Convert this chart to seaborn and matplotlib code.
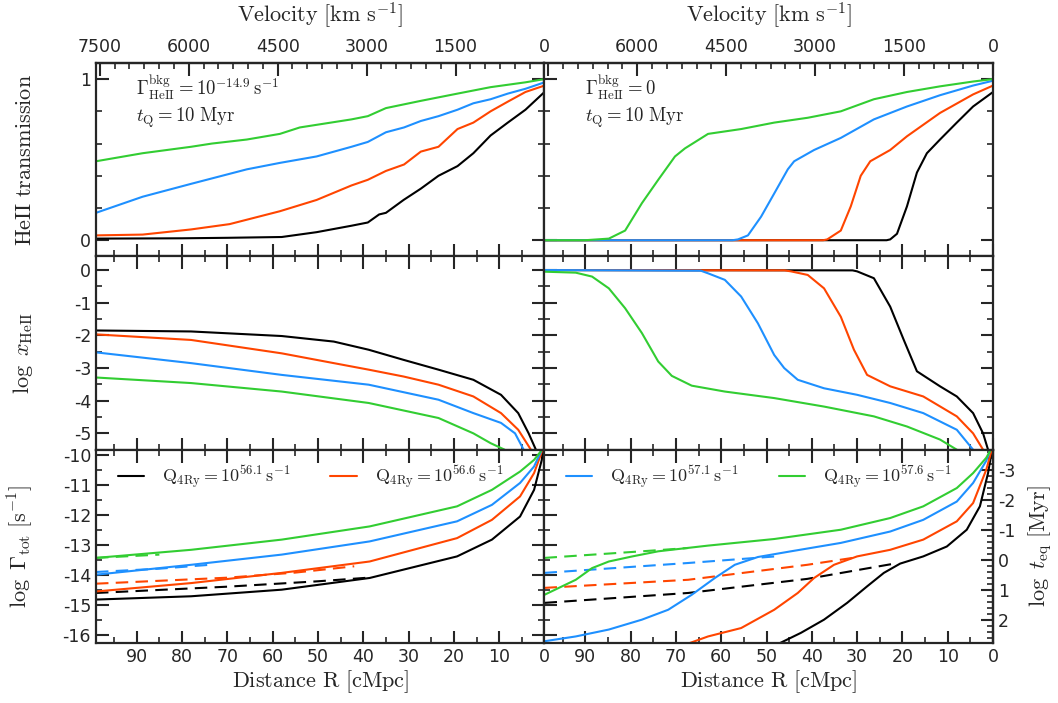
import matplotlib
matplotlib.use("Agg")
import matplotlib.pyplot as plt
import seaborn as sns
from matplotlib.ticker import MultipleLocator, FixedLocator, NullFormatter, FixedFormatter

# ---------------- data ----------------
COLORS = ["black", "#FF4500", "#1E90FF", "#32CD32"]
Q_LABELS = ["56.1", "56.6", "57.1", "57.6"]
VEL_PER_CMPC = 76.4  # km/s per cMpc (top axis conversion)
LOG_MYR_S = 13.5     # log10(1 Myr in s)
VEL_TICKS = [0, 1500, 3000, 4500, 6000, 7500]

# --- top-left: HeII transmission, Gamma_bkg = 10^-14.9
T1_R = [
    [99, 80, 70, 58, 50.3, 42.6, 39, 36.5, 35, 31.1, 27.3, 23.4, 19.2, 15.7, 11.9, 8.1, 4.2, 0],
    [99, 88.7, 78, 69.5, 58.4, 50.3, 42.6, 39, 35, 31, 27.3, 23.4, 19.2, 15.7, 11.9, 8.1, 4.2, 0],
    [99, 88.7, 78, 65.7, 58.4, 50.3, 42.6, 39, 35, 31, 27.3, 23.4, 19.2, 15.7, 11.9, 8.1, 4.2, 0],
    [99, 88.7, 78, 73.4, 65.7, 58.4, 54, 42.6, 39, 35, 27.3, 19.2, 11.9, 4.2, 0],
]
T1_V = [
    [0.01, 0.012, 0.015, 0.02, 0.05, 0.09, 0.11, 0.16, 0.17, 0.25, 0.32, 0.40, 0.46, 0.54, 0.65, 0.73, 0.81, 0.92],
    [0.03, 0.035, 0.067, 0.10, 0.18, 0.25, 0.34, 0.375, 0.43, 0.47, 0.55, 0.58, 0.69, 0.73, 0.80, 0.86, 0.92, 0.96],
    [0.17, 0.27, 0.35, 0.44, 0.48, 0.52, 0.58, 0.61, 0.67, 0.70, 0.74, 0.77, 0.81, 0.85, 0.875, 0.91, 0.94, 0.98],
    [0.49, 0.54, 0.58, 0.60, 0.625, 0.66, 0.70, 0.75, 0.77, 0.82, 0.865, 0.91, 0.95, 0.98, 1.0],
]

# --- top-right: HeII transmission, Gamma_bkg = 0
T2_R = [
    [99, 23.5, 22.7, 21.2, 19, 16.8, 14.6, 11.7, 8, 4.4, 0],
    [99, 37.5, 36.6, 33.6, 31.4, 29.2, 27.1, 22.7, 19, 11.7, 4.4, 0],
    [99, 57.5, 56.3, 54.1, 51.2, 48.3, 45.3, 43.9, 39.5, 33.6, 26.3, 19, 11.7, 4.4, 0],
    [99, 90, 88.5, 84.8, 81.2, 77.5, 73.9, 70.2, 68, 62.9, 55.6, 48.3, 40.9, 33.6, 26.3, 19, 11.7, 4.4, 0],
]
T2_V = [
    [0.0, 0.0, 0.005, 0.04, 0.21, 0.42, 0.54, 0.625, 0.73, 0.83, 0.92],
    [0.0, 0.0, 0.005, 0.06, 0.21, 0.40, 0.49, 0.56, 0.645, 0.79, 0.905, 0.96],
    [0.0, 0.0, 0.005, 0.03, 0.146, 0.29, 0.44, 0.49, 0.56, 0.635, 0.75, 0.83, 0.90, 0.96, 0.99],
    [0.0, 0.0, 0.003, 0.01, 0.06, 0.23, 0.375, 0.52, 0.57, 0.66, 0.69, 0.73, 0.76, 0.80, 0.875, 0.92, 0.955, 0.985, 1.0],
]

# --- middle-left: log x_HeII, Gamma_bkg = 10^-14.9
X1_R = [
    [99, 78, 58, 46.5, 38.8, 31.1, 23.4, 15.7, 9.6, 5.8, 3.5, 1.9, 1.2],
    [99, 78, 58, 46.5, 38.8, 31.1, 23.4, 15.7, 9.6, 5.8, 3.0, 2.0],
    [99, 78, 58, 38.8, 23.4, 15.7, 9.6, 6.5, 4.6, 3.6],
    [99, 78, 58, 38.8, 23.4, 15.7, 11.9, 8.8, 7.5],
]
X1_V = [
    [-1.85, -1.88, -2.02, -2.19, -2.44, -2.75, -3.05, -3.36, -3.82, -4.38, -5.0, -5.5, -6.0],
    [-1.97, -2.14, -2.55, -2.85, -3.05, -3.26, -3.51, -3.87, -4.38, -4.89, -5.5, -6.0],
    [-2.52, -2.85, -3.21, -3.51, -3.97, -4.38, -4.68, -5.0, -5.5, -6.0],
    [-3.29, -3.46, -3.72, -4.07, -4.53, -5.0, -5.3, -5.5, -6.0],
]

# --- middle-right: log x_HeII, Gamma_bkg = 0
X2_R = [
    [99, 31, 30, 26.3, 22.7, 19.7, 16.8, 11.7, 8, 4.4, 2.2, 1.1, 0.6],
    [99, 46, 44.6, 40.9, 37.3, 33.6, 30.7, 27.8, 22.7, 15.4, 8, 4.4, 2.2, 1.5],
    [99, 64.5, 62.9, 59.2, 55.6, 51.9, 48.3, 46.1, 43.1, 37.3, 30, 22.7, 15.4, 8, 4.4, 3.5],
    [99, 92.1, 88.5, 84.8, 81.2, 77.5, 73.9, 70.9, 66.5, 59.2, 48.3, 37.3, 26.3, 19, 11.7, 8, 6.5],
]
X2_V = [
    [0.0, -0.01, -0.04, -0.25, -1.12, -2.14, -3.10, -3.56, -3.87, -4.38, -5.0, -5.5, -6.0],
    [0.0, -0.01, -0.04, -0.15, -0.56, -1.43, -2.44, -3.21, -3.56, -3.87, -4.48, -5.0, -5.5, -6.0],
    [0.0, -0.02, -0.10, -0.30, -0.81, -1.63, -2.60, -3.00, -3.36, -3.62, -3.82, -4.07, -4.38, -4.89, -5.5, -6.0],
    [-0.05, -0.08, -0.20, -0.56, -1.17, -1.93, -2.80, -3.24, -3.54, -3.72, -3.92, -4.18, -4.48, -4.79, -5.19, -5.5, -6.0],
]

# --- bottom-left: log Gamma_tot, Gamma_bkg = 10^-14.9 (solid) and equilibrium (dashed)
G1_R = [
    [99, 78, 58, 38.6, 19.3, 11.6, 5.4, 2.3, 0.6, 0.0],
    [99, 78, 58, 38.6, 19.3, 11.6, 5.4, 2.3, 0.6, 0.0],
    [99, 78, 58, 38.6, 19.3, 11.6, 5.4, 2.3, 0.8, 0.0],
    [99, 78, 58, 38.6, 19.3, 11.6, 5.4, 2.3, 0.9, 0.0],
]
G1_V = [
    [-14.83, -14.72, -14.50, -14.11, -13.39, -12.83, -12.06, -11.17, -10.17, -9.4],
    [-14.56, -14.28, -13.94, -13.56, -12.78, -12.17, -11.39, -10.61, -9.9, -9.4],
    [-14.00, -13.67, -13.33, -12.89, -12.22, -11.67, -10.94, -10.39, -9.9, -9.5],
    [-13.44, -13.17, -12.83, -12.39, -11.72, -11.17, -10.56, -10.17, -9.9, -9.6],
]
G1D_R = [
    [99, 70, 50, 38],
    [99, 70, 55, 42],
    [99, 85, 73],
    [99, 85],
]
G1D_V = [
    [-14.61, -14.40, -14.22, -14.09],
    [-14.30, -14.10, -13.93, -13.72],
    [-13.91, -13.80, -13.66],
    [-13.44, -13.33],
]

# --- bottom-right: log Gamma_tot, Gamma_bkg = 0 (solid) and equilibrium (dashed)
G2_R = [
    [50, 42.4, 37.3, 32.2, 27.8, 24.1, 20.5, 15.4, 10.2, 5.8, 2.9, 1.1, 0.3, 0.0],
    [71, 62.9, 55.6, 48.3, 43.1, 39.5, 35.1, 30, 22.7, 15.4, 8, 4.4, 1.5, 0.4, 0.0],
    [99, 92.1, 84.8, 77.5, 71.7, 66.5, 61.4, 57, 51.9, 44.6, 33.6, 22.7, 15.4, 8, 4.4, 1.5, 0.0],
    [99, 92.1, 88.5, 84.8, 79.6, 73.9, 62.9, 48.3, 33.6, 22.7, 15.4, 8, 4.4, 1.5, 0.0],
]
G2_V = [
    [-16.5, -15.94, -15.50, -14.94, -14.39, -13.94, -13.63, -13.39, -13.06, -12.50, -11.72, -10.61, -9.9, -9.4],
    [-16.5, -16.06, -15.78, -15.17, -14.61, -14.11, -13.67, -13.39, -13.17, -12.83, -12.22, -11.61, -10.50, -9.9, -9.5],
    [-16.22, -16.06, -15.83, -15.50, -15.17, -14.67, -14.11, -13.67, -13.41, -13.22, -12.94, -12.56, -12.17, -11.56, -10.94, -10.2, -9.6],
    [-14.67, -14.17, -13.78, -13.56, -13.39, -13.22, -13.03, -12.81, -12.50, -12.11, -11.72, -11.11, -10.61, -10.1, -9.7],
]
G2D_R = [
    [99, 67.3, 41, 21],
    [99, 67.3, 41, 31],
    [99, 67.3, 48],
    [99, 77.5, 67.3],
]
G2D_V = [
    [-14.94, -14.61, -14.14, -13.61],
    [-14.44, -14.17, -13.67, -13.44],
    [-13.94, -13.61, -13.39],
    [-13.44, -13.22, -13.11],
]

# ---------------- style ----------------
sns.set_style("ticks")
plt.rcParams.update({
    "font.family": ["DejaVu Sans"],
    "mathtext.fontset": "cm",
    "axes.unicode_minus": False,
    "axes.linewidth": 1.6,
    "xtick.labelsize": 12.5,
    "ytick.labelsize": 12.5,
})

fig = plt.figure(figsize=(10.58, 7.03), dpi=100)
gs = fig.add_gridspec(3, 2, left=0.0907, right=0.9386, top=0.9104, bottom=0.0853,
                      hspace=0, wspace=0)
axes = [[fig.add_subplot(gs[i, j]) for j in range(2)] for i in range(3)]

LW = 1.5
LABEL_FS = 16
YLABEL_X = -0.135


def draw(ax, R, V, color, ls="-"):
    sns.lineplot(x=R, y=V, ax=ax, color=color, linestyle=ls, linewidth=LW,
                 sort=False, estimator=None, legend=False)
    return ax.lines[-1]


def style_ticks(ax, top=True, right=True):
    ax.tick_params(which="major", direction="in", length=9, width=1.5,
                   top=top, right=right, bottom=True, left=True)
    ax.tick_params(which="minor", direction="in", length=4.5, width=1.2,
                   top=top, right=right, bottom=True, left=True)


for row in range(3):
    for col in range(2):
        ax = axes[row][col]
        ax.set_xlim(99, 0)
        ax.xaxis.set_major_locator(MultipleLocator(10))
        ax.xaxis.set_minor_locator(MultipleLocator(5))
        if row < 2:
            ax.xaxis.set_major_formatter(NullFormatter())
        if col == 1:
            ax.yaxis.set_major_formatter(NullFormatter())

# top row
for col, (Rs, Vs) in enumerate([(T1_R, T1_V), (T2_R, T2_V)]):
    ax = axes[0][col]
    for i in range(4):
        draw(ax, Rs[i], Vs[i], COLORS[i])
    ax.set_ylim(-0.1, 1.1)
    ax.yaxis.set_major_locator(FixedLocator([0, 1]))
    ax.yaxis.set_minor_locator(MultipleLocator(0.2))
    style_ticks(ax, top=False)
    sec = ax.secondary_xaxis("top", functions=(lambda r: r * VEL_PER_CMPC,
                                                lambda v: v / VEL_PER_CMPC))
    sec.xaxis.set_major_locator(FixedLocator(VEL_TICKS))
    labels = [str(v) for v in VEL_TICKS]
    if col == 1:
        labels[-1] = ""
    sec.xaxis.set_major_formatter(FixedFormatter(labels))
    sec.xaxis.set_minor_locator(MultipleLocator(250))
    sec.tick_params(which="major", direction="in", length=9, width=1.5, pad=5)
    sec.tick_params(which="minor", direction="in", length=4.5, width=1.2)
    sec.set_xlabel(r"$\rm Velocity\ [km\ s^{-1}]$", fontsize=LABEL_FS, labelpad=12)

axes[0][0].set_ylabel(r"$\rm HeII\ transmission$", fontsize=LABEL_FS)
ANN_FS = 13.5
axes[0][0].text(0.09, 0.875, r"$\Gamma^{\rm bkg}_{\rm HeII}=10^{-14.9}\,{\rm s}^{-1}$",
                transform=axes[0][0].transAxes, fontsize=ANN_FS, va="center")
axes[0][0].text(0.09, 0.715, r"$t_{\rm Q}=10\ {\rm Myr}$",
                transform=axes[0][0].transAxes, fontsize=ANN_FS, va="center")
axes[0][1].text(0.09, 0.875, r"$\Gamma^{\rm bkg}_{\rm HeII}=0$",
                transform=axes[0][1].transAxes, fontsize=ANN_FS, va="center")
axes[0][1].text(0.09, 0.715, r"$t_{\rm Q}=10\ {\rm Myr}$",
                transform=axes[0][1].transAxes, fontsize=ANN_FS, va="center")

# middle row
for col, (Rs, Vs) in enumerate([(X1_R, X1_V), (X2_R, X2_V)]):
    ax = axes[1][col]
    for i in range(4):
        draw(ax, Rs[i], Vs[i], COLORS[i])
    ax.set_ylim(-5.5, 0.42)
    ax.yaxis.set_major_locator(MultipleLocator(1))
    ax.yaxis.set_minor_locator(MultipleLocator(0.5))
    style_ticks(ax)
axes[1][0].set_ylabel(r"$\log\ x_{\rm HeII}$", fontsize=LABEL_FS)

# bottom row
handles = []
for col, (Rs, Vs, RDs, VDs) in enumerate([(G1_R, G1_V, G1D_R, G1D_V),
                                          (G2_R, G2_V, G2D_R, G2D_V)]):
    ax = axes[2][col]
    for i in range(4):
        draw(ax, RDs[i], VDs[i], COLORS[i], ls=(0, (6, 3.5)))
    for i in range(4):
        h = draw(ax, Rs[i], Vs[i], COLORS[i])
        h.set_label(r"$\rm Q_{4Ry}=10^{%s}\,s^{-1}$" % Q_LABELS[i])
        handles.append(h)
    ax.set_ylim(-16.28, -9.83)
    ax.yaxis.set_major_locator(MultipleLocator(1))
    ax.yaxis.set_minor_locator(MultipleLocator(0.5))
    style_ticks(ax, right=(col == 0))
    ax.set_xlabel(r"$\rm Distance\ R\ [cMpc]$", fontsize=LABEL_FS, labelpad=2)

axes[2][0].set_ylabel(r"$\log\ \Gamma_{\rm tot}\ [{\rm s}^{-1}]$", fontsize=LABEL_FS)

for ax in (axes[0][0], axes[1][0], axes[2][0]):
    ax.yaxis.set_label_coords(YLABEL_X, 0.5)

leg_kw = dict(ncol=2, frameon=False, fontsize=13, handlelength=1.45, handletextpad=1.0,
              columnspacing=2.2, loc="upper left", borderaxespad=0.3)
axes[2][0].legend(handles=handles[0:2], bbox_to_anchor=(0.02, 0.995), **leg_kw)
axes[2][1].legend(handles=handles[6:8], bbox_to_anchor=(0.02, 0.995), **leg_kw)

sec_r = axes[2][1].secondary_yaxis("right", functions=(lambda g: -g - LOG_MYR_S,
                                                       lambda t: -t - LOG_MYR_S))
sec_r.yaxis.set_major_locator(MultipleLocator(1))
sec_r.yaxis.set_minor_locator(MultipleLocator(0.2))
sec_r.tick_params(which="major", direction="in", length=9, width=1.5)
sec_r.tick_params(which="minor", direction="in", length=4.5, width=1.2)
sec_r.set_ylabel(r"$\log\ t_{\rm eq}\ [\rm Myr]$", fontsize=LABEL_FS, labelpad=8)

fig.savefig("out.png", dpi=100)
